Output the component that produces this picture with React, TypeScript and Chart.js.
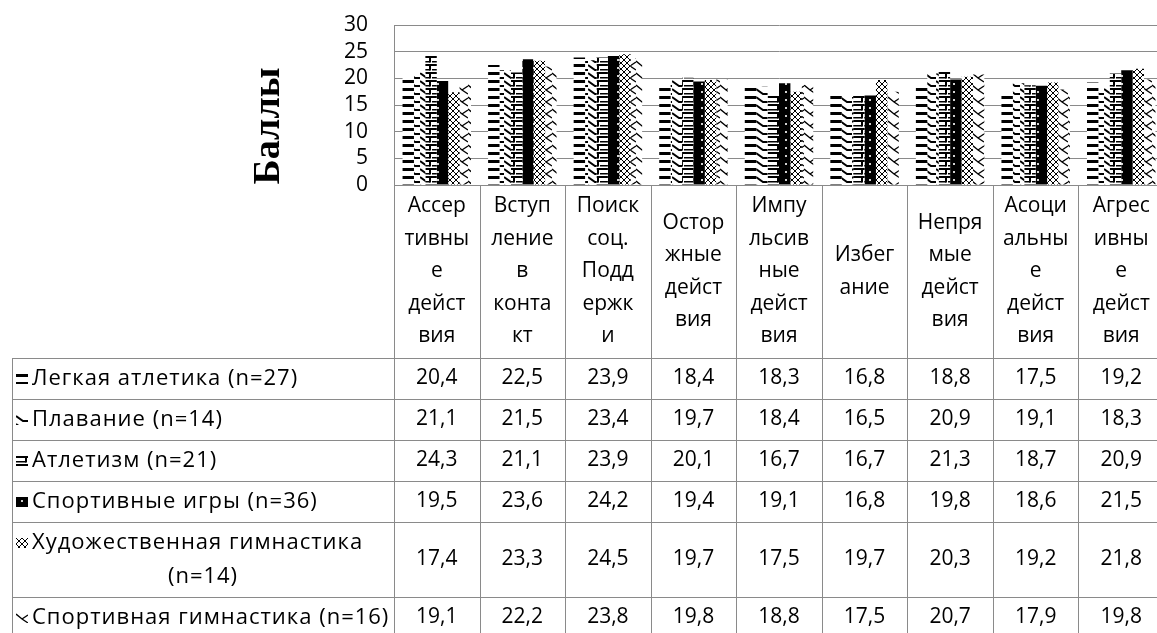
import { useEffect, useRef } from "react";
import { Chart, registerables } from "chart.js";

Chart.register(...registerables);

// Coping-strategy categories (header cells, already split into wrapped lines)
const categories: string[][] = [
  ["Ассер", "тивны", "е", "дейст", "вия"],
  ["Вступ", "ление", "в", "конта", "кт"],
  ["Поиск", "соц.", "Подд", "ержк", "и"],
  ["Остор", "жные", "дейст", "вия"],
  ["Импу", "льсив", "ные", "дейст", "вия"],
  ["Избег", "ание"],
  ["Непря", "мые", "дейст", "вия"],
  ["Асоци", "альны", "е", "дейст", "вия"],
  ["Агрес", "ивны", "е", "дейст", "вия"],
];

// Sport groups (row headers of the data table)
const groupNames: string[][] = [
  ["Легкая атлетика (n=27)"],
  ["Плавание (n=14)"],
  ["Атлетизм (n=21)"],
  ["Спортивные игры (n=36)"],
  ["Художественная гимнастика", "(n=14)"],
  ["Спортивная гимнастика (n=16)"],
];

const trackAndField = [20.4, 22.5, 23.9, 18.4, 18.3, 16.8, 18.8, 17.5, 19.2];
const swimming = [21.1, 21.5, 23.4, 19.7, 18.4, 16.5, 20.9, 19.1, 18.3];
const bodybuilding = [24.3, 21.1, 23.9, 20.1, 16.7, 16.7, 21.3, 18.7, 20.9];
const teamSports = [19.5, 23.6, 24.2, 19.4, 19.1, 16.8, 19.8, 18.6, 21.5];
const rhythmicGym = [17.4, 23.3, 24.5, 19.7, 17.5, 19.7, 20.3, 19.2, 21.8];
const artisticGym = [19.1, 22.2, 23.8, 19.8, 18.8, 17.5, 20.7, 17.9, 19.8];

const seriesValues = [trackAndField, swimming, bodybuilding, teamSports, rhythmicGym, artisticGym];

const yAxisTitle = "Баллы";
const yMin = 0;
const yMax = 30;
const yStep = 5;

const FONT = '"Open Sans", "Noto Sans", sans-serif';
const LINE = "#8a8a8a";

function makePattern(ctx: CanvasRenderingContext2D, kind: number): CanvasPattern {
  const c = document.createElement("canvas");
  let w = 12;
  let h = 8;
  if (kind === 4) {
    w = 6;
    h = 6;
  }
  if (kind === 5) {
    w = 12;
    h = 12;
  }
  c.width = w;
  c.height = h;
  const g = c.getContext("2d")!;
  g.fillStyle = "#fff";
  g.fillRect(0, 0, w, h);
  g.fillStyle = "#000";
  g.strokeStyle = "#000";
  switch (kind) {
    case 0: // thick horizontal dashes
      g.fillRect(0, 0, w, 3);
      break;
    case 1: // stepped wave
      g.lineWidth = 2;
      for (const dy of [-8, 0, 8]) {
        g.beginPath();
        g.moveTo(0, dy + 1);
        g.lineTo(7, dy + 6);
        g.lineTo(12, dy + 6);
        g.stroke();
      }
      break;
    case 2: // open boxes
      g.fillRect(0, 0, w, 2);
      g.fillRect(0, 5, 10, 1.5);
      g.fillRect(9, 0, 2, 6.5);
      break;
    case 3: // black with light dots
      g.fillRect(0, 0, w, h);
      g.fillStyle = "#d0d0d0";
      g.fillRect(5, 3, 2, 2);
      break;
    case 4: // diamond lattice
      g.lineWidth = 1;
      g.beginPath();
      g.moveTo(0, 0);
      g.lineTo(6, 6);
      g.moveTo(6, 0);
      g.lineTo(0, 6);
      g.stroke();
      break;
    case 5: // chevrons
      g.lineWidth = 1.4;
      g.beginPath();
      g.moveTo(0, 1);
      g.lineTo(6, 6);
      g.lineTo(12, 2);
      g.moveTo(6, 6);
      g.lineTo(12, 10);
      g.stroke();
      break;
  }
  return ctx.createPattern(c, "repeat")!;
}

export default function App() {
  const ref = useRef<HTMLCanvasElement | null>(null);

  useEffect(() => {
    const canvas = ref.current!;
    const ctx = canvas.getContext("2d")!;
    const patterns = seriesValues.map((_, i) => makePattern(ctx, i));

    const tablePlugin = {
      id: "dataTable",
      afterDraw(chart: Chart) {
        const c = chart.ctx as CanvasRenderingContext2D & { letterSpacing?: string };
        const area = chart.chartArea;
        const left = area.left;
        const colW = (area.right - area.left) / categories.length;
        const headTop = area.bottom;
        const lh = 32.5;
        const maxLines = Math.max(...categories.map((l) => l.length));
        const headBottom = headTop + maxLines * lh + 10.5;
        const tableLeft = 12;
        const bottomEdge = chart.height + 10;

        // row boundaries
        const rowTops: number[] = [headBottom];
        groupNames.forEach((lines) => {
          rowTops.push(rowTops[rowTops.length - 1] + 41 + (lines.length - 1) * 34);
        });

        c.save();
        c.strokeStyle = LINE;
        c.lineWidth = 1;
        c.beginPath();
        rowTops.forEach((y) => {
          const yy = Math.round(y) + 0.5;
          c.moveTo(tableLeft, yy);
          c.lineTo(area.right, yy);
        });
        c.moveTo(tableLeft + 0.5, headBottom);
        c.lineTo(tableLeft + 0.5, bottomEdge);
        for (let k = 0; k <= categories.length; k++) {
          const x = Math.round(left + k * colW) + 0.5;
          c.moveTo(x, headTop);
          c.lineTo(x, bottomEdge);
        }
        c.stroke();

        c.fillStyle = "#000";
        c.font = `21px ${FONT}`;
        c.textAlign = "center";
        c.textBaseline = "middle";

        // header cells
        const headMid = (headTop + headBottom) / 2;
        categories.forEach((lines, i) => {
          const cx = left + (i + 0.5) * colW;
          const y0 = headMid - ((lines.length - 1) * lh) / 2;
          lines.forEach((t, j) => c.fillText(t, cx, y0 + j * lh));
        });

        // data rows
        groupNames.forEach((lines, r) => {
          const top = rowTops[r];
          const bot = rowTops[r + 1];
          const mid = (top + bot) / 2;
          const y0 = mid - ((lines.length - 1) * 34) / 2;
          // legend swatch
          c.save();
          c.translate(16, Math.round(y0) - 5);
          c.fillStyle = patterns[r];
          c.fillRect(0, 0, 12, 10);
          c.restore();

          c.fillStyle = "#000";
          c.font = `22px ${FONT}`;
          c.letterSpacing = "1px";
          c.textAlign = "left";
          c.fillText(lines[0], 32, y0);
          if (lines.length > 1) {
            c.textAlign = "center";
            for (let j = 1; j < lines.length; j++) {
              c.fillText(lines[j], (tableLeft + left) / 2, y0 + j * 34);
            }
          }
          c.letterSpacing = "0px";
          c.font = `21px ${FONT}`;
          c.textAlign = "center";
          seriesValues[r].forEach((v, i) => {
            const cx = left + (i + 0.5) * colW;
            c.fillText(v.toFixed(1).replace(".", ","), cx, mid);
          });
        });

        // vertical axis title
        c.translate(269, 126);
        c.rotate(-Math.PI / 2);
        c.font = 'bold 38px "Liberation Serif", "DejaVu Serif", serif';
        c.textAlign = "center";
        c.textBaseline = "middle";
        c.fillText(yAxisTitle, 0, 0);
        c.restore();
      },
    };

    const chart = new Chart(canvas, {
      type: "bar",
      data: {
        labels: categories.map((l) => l.join("")),
        datasets: seriesValues.map((vals, i) => ({
          label: groupNames[i].join(" "),
          data: vals,
          backgroundColor: patterns[i],
          borderWidth: 0,
          categoryPercentage: 0.8,
          barPercentage: 1,
        })),
      },
      options: {
        animation: false,
        responsive: false,
        devicePixelRatio: 1,
        layout: { padding: { top: 25, bottom: 448, left: 0, right: 0 } },
        plugins: {
          legend: { display: false },
          tooltip: { enabled: false },
        },
        scales: {
          x: { display: false },
          y: {
            min: yMin,
            max: yMax,
            afterFit: (scale: any) => {
              scale.width = 394;
              scale.paddingTop = 0;
              scale.paddingBottom = 0;
            },
            ticks: {
              stepSize: yStep,
              autoSkip: false,
              padding: 26,
              color: "#000",
              font: { family: FONT, size: 21 },
            },
            grid: { color: LINE, lineWidth: 1, drawTicks: false },
            border: { display: true, color: LINE, width: 1 },
          },
        },
      },
      plugins: [tablePlugin],
    });

    return () => chart.destroy();
  }, []);

  return (
    <div style={{ position: "absolute", left: 0, top: 0, width: 1157, height: 633, overflow: "hidden", background: "#fff" }}>
      <canvas ref={ref} width={1164} height={633} style={{ display: "block" }} />
    </div>
  );
}
